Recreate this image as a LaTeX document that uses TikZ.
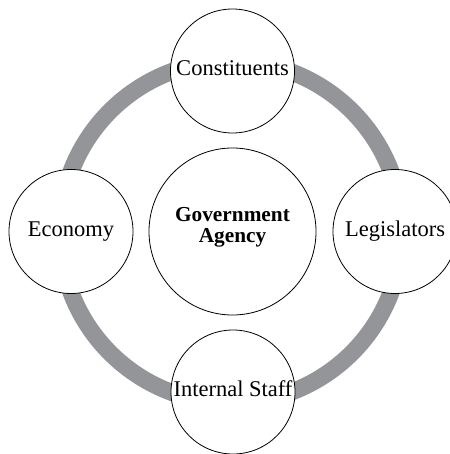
\documentclass[tikz,border=0pt]{standalone}
\usepackage{fontspec}
\setmainfont{Liberation Serif}
\definecolor{ringgray}{RGB}{148,149,153}
\begin{document}
\begin{tikzpicture}[x=1pt,y=-1pt,
  sat/.style={circle,draw=black,line width=0.8pt,fill=white,minimum size=124pt,inner sep=0pt,
    text height=13pt,text depth=4pt,font=\fontsize{22.5}{24}\selectfont},
  hub/.style={circle,draw=black,line width=0.8pt,fill=white,minimum size=167pt,inner sep=0pt,
    font=\fontsize{21.3}{21}\selectfont\bfseries}]
\useasboundingbox (0,0) rectangle (449,454);
\draw[line width=17pt,ringgray] (231,232) circle[radius=171];
\node[sat] (con) at (232.5,71) {Constituents};
\node[sat] (eco) at (71,231.5) {Economy};
\node[sat] (leg) at (395,231.5) {Legislators};
\node[sat] (sta) at (233,392) {Internal Staff};
\node[hub] (gov) at (232.5,231.5) {\raisebox{0pt}[14pt][35pt]{\begin{tabular}[t]{@{}c@{}}Government\\Agency\end{tabular}}};
\end{tikzpicture}
\end{document}
